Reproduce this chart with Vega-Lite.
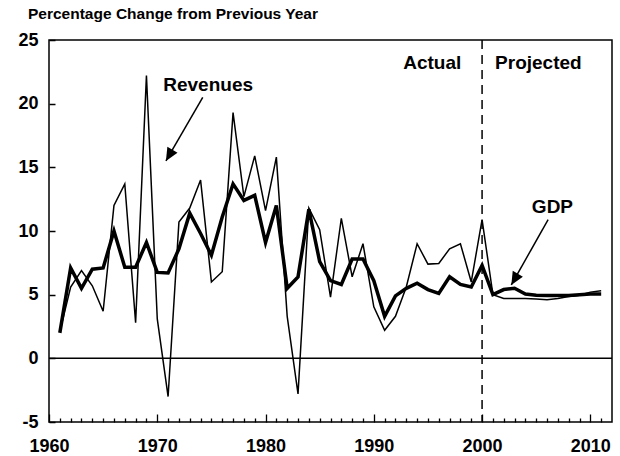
{
  "$schema": "https://vega.github.io/schema/vega-lite/v6.json",
  "width": 563,
  "height": 382,
  "autosize": {"type": "none"},
  "padding": {"left": 49, "top": 40, "right": 8, "bottom": 34},
  "background": "white",
  "config": {
    "view": {"stroke": "black", "strokeWidth": 1.5},
    "font": "Liberation Sans",
    "axis": {
      "labelFont": "Liberation Sans",
      "labelFontWeight": "bold",
      "labelFontSize": 18,
      "labelColor": "black",
      "tickColor": "black",
      "domain": false,
      "grid": false,
      "labelFlush": false,
      "labelOverlap": false,
      "labelBound": false
    }
  },
  "title": {
    "text": "Percentage Change from Previous Year",
    "anchor": "start",
    "frame": "group",
    "dx": -21,
    "offset": 9,
    "fontSize": 15.5,
    "font": "Liberation Sans",
    "fontWeight": "bold",
    "color": "black"
  },
  "datasets": {
    "series": [
      {"year": 1961, "gdp": 2.0, "revenues": 2.1},
      {"year": 1962, "gdp": 7.1, "revenues": 5.6},
      {"year": 1963, "gdp": 5.5, "revenues": 6.9},
      {"year": 1964, "gdp": 7.0, "revenues": 5.7},
      {"year": 1965, "gdp": 7.1, "revenues": 3.7},
      {"year": 1966, "gdp": 10.0, "revenues": 12.0},
      {"year": 1967, "gdp": 7.15, "revenues": 13.7},
      {"year": 1968, "gdp": 7.15, "revenues": 2.8},
      {"year": 1969, "gdp": 9.1, "revenues": 22.2},
      {"year": 1970, "gdp": 6.75, "revenues": 3.1},
      {"year": 1971, "gdp": 6.7, "revenues": -3.0},
      {"year": 1972, "gdp": 8.6, "revenues": 10.7},
      {"year": 1973, "gdp": 11.4, "revenues": 11.8},
      {"year": 1974, "gdp": 9.8, "revenues": 14.0},
      {"year": 1975, "gdp": 8.1, "revenues": 6.0},
      {"year": 1976, "gdp": 11.1, "revenues": 6.8},
      {"year": 1977, "gdp": 13.7, "revenues": 19.3},
      {"year": 1978, "gdp": 12.4, "revenues": 12.7},
      {"year": 1979, "gdp": 12.8, "revenues": 15.9},
      {"year": 1980, "gdp": 9.1, "revenues": 11.6},
      {"year": 1981, "gdp": 12.0, "revenues": 15.8},
      {"year": 1982, "gdp": 5.5, "revenues": 3.3},
      {"year": 1983, "gdp": 6.4, "revenues": -2.8},
      {"year": 1984, "gdp": 11.7, "revenues": 11.8},
      {"year": 1985, "gdp": 7.6, "revenues": 10.1},
      {"year": 1986, "gdp": 6.1, "revenues": 4.8},
      {"year": 1987, "gdp": 5.8, "revenues": 11.0},
      {"year": 1988, "gdp": 7.8, "revenues": 6.4},
      {"year": 1989, "gdp": 7.8, "revenues": 9.0},
      {"year": 1990, "gdp": 6.1, "revenues": 4.05},
      {"year": 1991, "gdp": 3.3, "revenues": 2.2},
      {"year": 1992, "gdp": 4.9, "revenues": 3.3},
      {"year": 1993, "gdp": 5.5, "revenues": 5.6},
      {"year": 1994, "gdp": 5.9, "revenues": 9.0},
      {"year": 1995, "gdp": 5.4, "revenues": 7.4},
      {"year": 1996, "gdp": 5.1, "revenues": 7.45},
      {"year": 1997, "gdp": 6.4, "revenues": 8.6},
      {"year": 1998, "gdp": 5.8, "revenues": 9.0},
      {"year": 1999, "gdp": 5.6, "revenues": 6.0},
      {"year": 2000, "gdp": 7.3, "revenues": 10.9},
      {"year": 2001, "gdp": 5.0, "revenues": 5.0},
      {"year": 2002, "gdp": 5.4, "revenues": 4.7},
      {"year": 2003, "gdp": 5.5, "revenues": 4.7},
      {"year": 2004, "gdp": 5.05, "revenues": 4.7},
      {"year": 2005, "gdp": 4.95, "revenues": 4.65},
      {"year": 2006, "gdp": 4.93, "revenues": 4.6},
      {"year": 2007, "gdp": 4.93, "revenues": 4.7},
      {"year": 2008, "gdp": 4.93, "revenues": 4.85},
      {"year": 2009, "gdp": 5.0, "revenues": 4.95},
      {"year": 2010, "gdp": 5.05, "revenues": 5.2},
      {"year": 2011, "gdp": 5.05, "revenues": 5.3}
    ],
    "notes": [
      {"label": "Revenues", "x": 1974.7, "y": 21.5},
      {"label": "GDP", "x": 2006.5, "y": 11.9},
      {"label": "Actual", "x": 1995.4, "y": 23.2},
      {"label": "Projected", "x": 2005.2, "y": 23.2}
    ],
    "arrows": [
      {"x": 1974.2, "y": 20.5, "tipX": 1970.8, "tipY": 15.5},
      {"x": 2006.1, "y": 10.9, "tipX": 2002.7, "tipY": 5.76}
    ],
    "zero": [{"y": 0}],
    "split": [{"x": 2000}]
  },
  "layer": [
    {
      "data": {"name": "series"},
      "mark": {"type": "line", "color": "black", "strokeWidth": 3.5},
      "encoding": {
        "x": {
          "field": "year", "type": "quantitative", "title": null,
          "scale": {"domain": [1960, 2012], "nice": false, "zero": false},
          "axis": {
            "orient": "bottom",
            "values": [1960, 1961, 1962, 1963, 1964, 1965, 1966, 1967, 1968, 1969, 1970, 1971, 1972, 1973, 1974, 1975, 1976, 1977, 1978, 1979, 1980, 1981, 1982, 1983, 1984, 1985, 1986, 1987, 1988, 1989, 1990, 1991, 1992, 1993, 1994, 1995, 1996, 1997, 1998, 1999, 2000, 2001, 2002, 2003, 2004, 2005, 2006, 2007, 2008, 2009, 2010, 2011],
            "labelExpr": "datum.value % 10 === 0 ? toString(datum.value) : ''",
            "tickSize": {"condition": {"test": "datum.value % 10 === 0", "value": -8}, "value": -4},
            "tickWidth": 1.3,
            "tickColor": "black",
            "labelPadding": 23,
            "labelFont": "Liberation Sans",
            "labelFontWeight": "bold",
            "labelFontSize": 18,
            "labelColor": "black",
            "labelOverlap": false,
            "labelFlush": false,
            "labelBound": false,
            "domain": false,
            "grid": false
          }
        },
        "y": {
          "field": "gdp", "type": "quantitative", "title": null,
          "scale": {"domain": [-5, 25], "nice": false, "zero": false},
          "axis": {
            "orient": "left",
            "values": [-5, 0, 5, 10, 15, 20, 25],
            "labelExpr": "toString(datum.value)",
            "tickSize": -6,
            "tickWidth": 1.5,
            "tickColor": "black",
            "labelPadding": 17,
            "labelFont": "Liberation Sans",
            "labelFontWeight": "bold",
            "labelFontSize": 18,
            "labelColor": "black",
            "labelOverlap": false,
            "labelFlush": false,
            "labelBound": false,
            "domain": false,
            "grid": false
          }
        }
      }
    },
    {
      "data": {"name": "series"},
      "mark": {"type": "line", "color": "black", "strokeWidth": 1.5},
      "encoding": {
        "x": {"field": "year", "type": "quantitative", "axis": null, "scale": {"domain": [1960, 2012], "nice": false, "zero": false}},
        "y": {"field": "revenues", "type": "quantitative", "axis": null, "scale": {"domain": [-5, 25], "nice": false, "zero": false}}
      }
    },
    {
      "data": {"name": "zero"},
      "mark": {"type": "rule", "color": "black", "strokeWidth": 1.5},
      "encoding": {
        "y": {"field": "y", "type": "quantitative", "axis": null, "scale": {"domain": [-5, 25], "nice": false, "zero": false}}
      }
    },
    {
      "data": {"name": "split"},
      "mark": {"type": "rule", "color": "black", "strokeWidth": 1.5, "strokeDash": [9, 6]},
      "encoding": {
        "x": {"field": "x", "type": "quantitative", "axis": null, "scale": {"domain": [1960, 2012], "nice": false, "zero": false}}
      }
    },
    {
      "data": {"name": "arrows"},
      "mark": {"type": "rule", "color": "black", "strokeWidth": 1.5},
      "encoding": {
        "x": {"field": "x", "type": "quantitative", "axis": null, "scale": {"domain": [1960, 2012], "nice": false, "zero": false}},
        "y": {"field": "y", "type": "quantitative", "axis": null, "scale": {"domain": [-5, 25], "nice": false, "zero": false}},
        "x2": {"field": "tipX"},
        "y2": {"field": "tipY"}
      }
    },
    {
      "data": {"name": "arrows"},
      "mark": {"type": "point", "shape": "M0,0L-0.45,1L0.45,1Z", "filled": true, "color": "black", "opacity": 1, "size": 676, "angle": 210},
      "encoding": {
        "x": {"field": "tipX", "type": "quantitative", "axis": null, "scale": {"domain": [1960, 2012], "nice": false, "zero": false}},
        "y": {"field": "tipY", "type": "quantitative", "axis": null, "scale": {"domain": [-5, 25], "nice": false, "zero": false}}
      }
    },
    {
      "data": {"name": "notes"},
      "mark": {"type": "text", "font": "Liberation Sans", "fontWeight": "bold", "fontSize": 19, "color": "black", "align": "center", "baseline": "middle"},
      "encoding": {
        "x": {"field": "x", "type": "quantitative", "axis": null, "scale": {"domain": [1960, 2012], "nice": false, "zero": false}},
        "y": {"field": "y", "type": "quantitative", "axis": null, "scale": {"domain": [-5, 25], "nice": false, "zero": false}},
        "text": {"field": "label", "type": "nominal"}
      }
    }
  ],
  "resolve": {"axis": {"x": "independent", "y": "independent"}}
}
